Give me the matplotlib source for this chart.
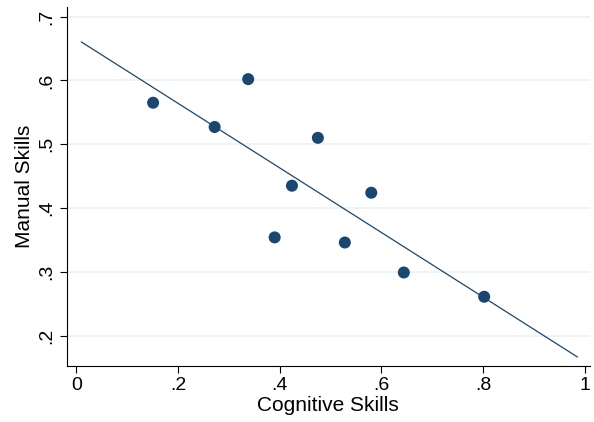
import matplotlib.pyplot as plt
import numpy as np

plt.rcParams["font.family"] = ["Liberation Sans", "DejaVu Sans"]

# scatter points
cognitive = [0.151, 0.272, 0.338, 0.475, 0.424, 0.390, 0.580, 0.528, 0.644, 0.802]
manual = [0.565, 0.527, 0.602, 0.510, 0.435, 0.354, 0.424, 0.346, 0.299, 0.261]
fit_range = [0.010, 0.985]

xticks = [0, 0.2, 0.4, 0.6, 0.8, 1]
xlabels = ["0", ".2", ".4", ".6", ".8", "1"]
yticks = [0.2, 0.3, 0.4, 0.5, 0.6, 0.7]
ylabels = [".2", ".3", ".4", ".5", ".6", ".7"]

navy = "#1a476f"

fig = plt.figure(figsize=(5.94, 4.22), dpi=100)
ax = fig.add_axes([0.1122, 0.1327, 0.881, 0.8507])

slope, intercept = np.polyfit(cognitive, manual, 1)
xs = np.array(fit_range)
ax.plot(xs, intercept + slope * xs, color=navy, lw=0.9, zorder=2)
ax.scatter(cognitive, manual, s=75, color=navy, edgecolors="none", zorder=3)

ax.set_xlim(-0.019, 1.01)
ax.set_ylim(0.1525, 0.715)
ax.set_xticks(xticks, xlabels)
ax.set_yticks(yticks, ylabels)
for lab in ax.get_yticklabels():
    lab.set_rotation(90)
    lab.set_va("center")
ax.tick_params(labelsize=14, length=5, width=0.8, color="black", pad=3)
ax.grid(axis="y", color="#eaf2f3", lw=1.2, zorder=0)
ax.set_axisbelow(True)
for side in ["top", "right"]:
    ax.spines[side].set_visible(False)
for side in ["left", "bottom"]:
    ax.spines[side].set_linewidth(0.8)

ax.set_xlabel("Cognitive Skills", fontsize=15, labelpad=1)
ax.set_ylabel("Manual Skills", fontsize=15, labelpad=3)

fig.savefig("out.png", dpi=100)
